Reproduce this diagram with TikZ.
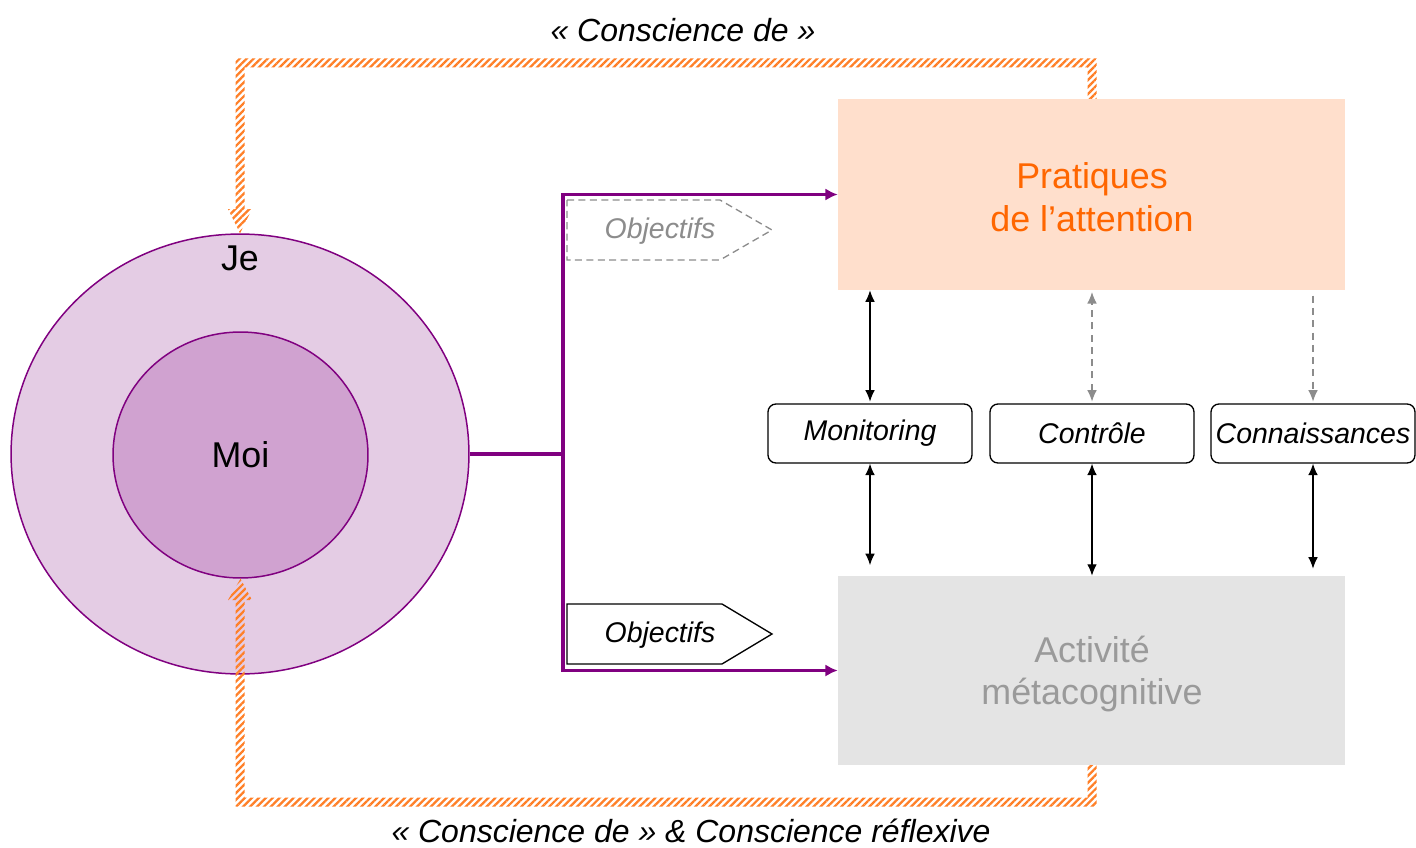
\documentclass[tikz,border=0pt]{standalone}
\usepackage{fontspec}
\setmainfont{Liberation Sans}
\usetikzlibrary{arrows.meta,patterns.meta,shapes.geometric,calc}
\definecolor{purp}{HTML}{800080}
\definecolor{jefill}{HTML}{E4CCE4}
\definecolor{moifill}{HTML}{D0A2D0}
\definecolor{peach}{HTML}{FFDFCC}
\definecolor{grayfill}{HTML}{E4E4E4}
\definecolor{orangetxt}{HTML}{FF6600}
\definecolor{graytxt}{HTML}{9A9A9A}
\definecolor{hatchcol}{HTML}{FF7F27}
\definecolor{dashgray}{HTML}{8C8C8C}
\begin{document}
\begin{tikzpicture}[x=0.02cm,y=-0.02cm,
  bigtext/.style={font=\fontsize{20.4}{24.4}\selectfont, align=center},
  smalltext/.style={font=\fontsize{16.2}{19}\selectfont\itshape},
  bigbox/.style={rectangle, draw=none, minimum width=10.14cm, inner sep=0pt},
  smallbox/.style={rectangle, draw=black, line width=0.75pt, rounded corners=4.5pt, fill=white, minimum width=4.08cm, minimum height=1.18cm, inner sep=0pt, smalltext},
  purpline/.style={draw=purp, line width=1.8pt},
  purparrow/.style={purpline, -{Latex[length=7pt,width=7pt]}},
  blk/.style={draw=black, line width=0.7pt, {Latex[length=6.5pt,width=5.5pt]}-{Latex[length=6.5pt,width=5.5pt]}},
  dgray/.style={draw=dashgray, line width=0.7pt, dash pattern=on 4pt off 3pt},
  hatched/.style={pattern={Lines[angle=45,distance=2.8pt,line width=1.3pt]}, pattern color=hatchcol},
  objshape/.style={line width=0.75pt},
  lbl/.style={font=\fontsize{18.2}{21}\selectfont\itshape, inner sep=0pt}
]
\useasboundingbox (0,0) rectangle (1416,848);

% circles
\node[ellipse, draw=purp, line width=0.85pt, fill=jefill, minimum width=9.16cm, minimum height=8.8cm, inner sep=0pt] (je) at (240,454) {};
\node[ellipse, draw=purp, line width=0.85pt, fill=moifill, minimum width=5.1cm, minimum height=4.92cm, inner sep=0pt, bigtext] (moi) at (240.5,455) {Moi};
\node[bigtext] (jetxt) at (240,258) {Je};

% big boxes
\node[bigbox, fill=peach, minimum height=3.82cm] (pa) at (1091.5,194.5) {};
\node[bigtext, text=orangetxt] (patxt) at (1092,197) {Pratiques\\de l'attention};
\node[bigbox, fill=grayfill, minimum height=3.78cm] (act) at (1091.5,670.5) {};
\node[bigtext, text=graytxt] (acttxt) at (1092,674) {Activité\\métacognitive};

% small boxes
\node[smallbox] (mon) at (870,433.5) {Monitoring};
\node[smallbox] (ctl) at (1092,433.5) {Contrôle};
\node[smallbox] (con) at (1313,433.5) {Connaissances};

% vertical arrows
\draw[blk, shorten <=1pt] (mon.north) -- (mon.north |- pa.south);
\draw[blk, shorten >=6pt] (mon.south) -- (mon.south |- act.north);
\draw[dgray, {Latex[length=6.5pt,width=5.5pt]}-{Latex[length=6.5pt,width=5.5pt]}, shorten <=1pt, shorten >=1pt] (ctl.north) -- (ctl.north |- pa.south);
\draw[blk] (ctl.south) -- (ctl.south |- act.north);
\draw[dgray, -{Latex[length=6.5pt,width=5.5pt]}, shorten <=3pt, shorten >=1pt] (con.north |- pa.south) -- (con.north);
\draw[blk, shorten >=4pt] (con.south) -- (con.south |- act.north);

% purple connectors
\coordinate (fork) at (563,454);
\draw[purpline] (je.east) -- (fork);
\draw[purparrow] (fork) |- (pa.west);
\draw[purparrow] (fork) |- (act.west);

% Objectifs shapes
\draw[objshape, draw=dashgray, dash pattern=on 4pt off 2.5pt, fill=white] (567,200) -- (720,200) -- (772,230) -- (720,260) -- (567,260) -- cycle;
\node[smalltext, text=dashgray] (obj1) at (660,231) {Objectifs};
\draw[objshape, draw=black, fill=white] (567,604) -- (722,604) -- (772,634) -- (722,664) -- (567,664) -- cycle;
\node[smalltext] (obj2) at (660,635) {Objectifs};

% hatched orange arrows
\fill[hatched] (235.5,209) -- (235.5,58.5) -- (1096.5,58.5) -- (1096.5,99) -- (1087.5,99) -- (1087.5,67.5) -- (244.5,67.5) -- (244.5,209) -- (252,209) -- (je.north) -- (228,209) -- cycle;
\fill[hatched] (1096.5,765) -- (1096.5,806.5) -- (235.5,806.5) -- (235.5,600) -- (228,600) -- (moi.south) -- (252,600) -- (244.5,600) -- (244.5,797.5) -- (1087.5,797.5) -- (1087.5,765) -- cycle;

% labels
\node[lbl] (ltop) at (683,30) {« Conscience de »};
\node[lbl] (lbot) at (691,831) {« Conscience de » \& Conscience réflexive};
\end{tikzpicture}
\end{document}
